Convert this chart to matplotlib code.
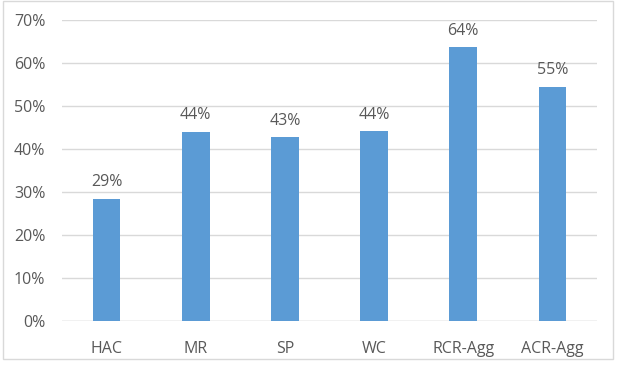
import matplotlib.pyplot as plt
from matplotlib.patches import Rectangle
from matplotlib.ticker import PercentFormatter

# Data
methods = ["HAC", "MR", "SP", "WC", "RCR-Agg", "ACR-Agg"]
accuracy = [28.5, 44.1, 42.8, 44.2, 63.7, 54.5]
labels = ["29%", "44%", "43%", "44%", "64%", "55%"]

bar_color = "#5B9BD5"
text_color = "#595959"
grid_color = "#D9D9D9"

plt.rcParams['font.family'] = ['Open Sans', 'DejaVu Sans']

fig = plt.figure(figsize=(6.4, 3.92), dpi=100)
ax = fig.add_axes([62 / 640, 70.7 / 392, 535 / 640, 301 / 392])

# outer chart border
fig.patches.append(Rectangle((3 / 640, 33 / 392), 610 / 640, 358 / 392,
                             transform=fig.transFigure, fill=False,
                             edgecolor="#D9D9D9", linewidth=1))

x = range(len(methods))
bars = ax.bar(x, accuracy, width=0.31, color=bar_color, zorder=3)
for b, lab in zip(bars, labels):
    ax.text(b.get_x() + b.get_width() / 2, b.get_height() + 2.0, lab,
            ha="center", va="bottom", fontsize=11.5, color=text_color)

ax.set_xlim(-0.5, len(methods) - 0.5)
ax.set_ylim(0, 70)
ax.set_yticks(range(0, 71, 10))
ax.yaxis.set_major_formatter(PercentFormatter(decimals=0))
ax.set_xticks(list(x))
ax.set_xticklabels(methods)
ax.tick_params(axis="both", length=0, labelsize=11.5, colors=text_color)
ax.tick_params(axis="x", pad=14)
ax.tick_params(axis="y", pad=12)
ax.grid(axis="y", color=grid_color, linewidth=1, zorder=0)
for s in ax.spines.values():
    s.set_visible(False)
ax.axhline(0, color=grid_color, linewidth=1, zorder=1)

fig.savefig("out.png", dpi=100)
